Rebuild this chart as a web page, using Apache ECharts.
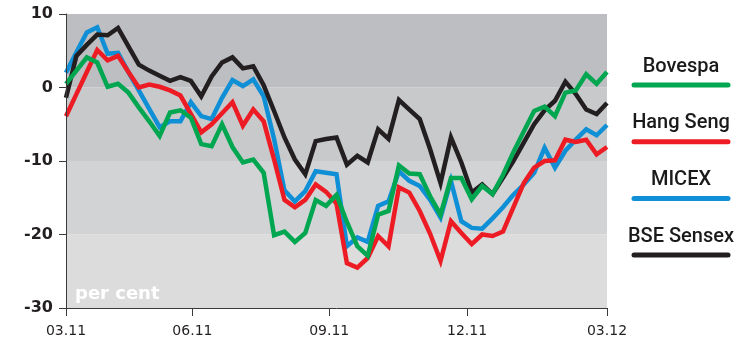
<!DOCTYPE html>
<html>
<head>
<meta charset="utf-8">
<script src="https://cdn.jsdelivr.net/npm/echarts@6/dist/echarts.min.js"></script>
<style>html,body{margin:0;padding:0;background:#fff}#c{width:750px;height:345px}</style>
</head>
<body>
<div id="c"></div>
<script>
// Weekly observations, index 0..52
const seriesNames = ['Bovespa', 'Hang Seng', 'MICEX', 'BSE Sensex'];
const bovespa = [0.5, 2.3, 4.1, 3.4, 0.1, 0.5, -0.7, -2.7, -4.6, -6.6, -3.4, -3.1, -4.1, -7.7, -8.0, -5.0, -8.1, -10.2, -9.8, -11.6, -20.1, -19.6, -21.0, -19.8, -15.3, -16.1, -14.6, -18.3, -21.6, -22.9, -17.3, -16.8, -10.6, -11.7, -11.8, -14.8, -17.3, -12.3, -12.3, -15.2, -13.4, -14.5, -11.9, -8.8, -6.0, -3.2, -2.6, -3.9, -0.7, -0.4, 1.8, 0.5, 2.1];
const hangSeng = [-3.9, -0.9, 2.1, 5.1, 3.7, 4.3, 2.1, 0.0, 0.4, 0.1, -0.4, -1.1, -3.6, -6.1, -5.0, -3.5, -2.0, -5.2, -3.0, -4.6, -9.8, -15.3, -16.3, -15.3, -13.2, -14.2, -15.8, -23.9, -24.5, -23.2, -20.2, -21.6, -13.6, -14.3, -16.8, -19.9, -23.6, -18.2, -19.8, -21.3, -20.0, -20.2, -19.6, -16.3, -13.0, -10.9, -10.0, -9.9, -7.1, -7.4, -7.1, -9.1, -8.1];
const micex = [2.0, 4.8, 7.5, 8.2, 4.6, 4.7, 2.1, -0.4, -2.9, -5.4, -4.6, -4.6, -2.0, -3.9, -4.3, -1.4, 1.0, 0.2, 1.1, -1.2, -7.0, -14.0, -15.5, -14.1, -11.4, -11.6, -11.8, -21.6, -20.4, -21.0, -16.1, -15.5, -11.4, -12.7, -13.4, -15.3, -17.7, -12.7, -18.2, -19.1, -19.2, -17.8, -16.3, -14.6, -13.2, -11.6, -8.2, -10.9, -8.6, -7.1, -5.7, -6.5, -5.1];
const bseSensex = [-1.4, 4.3, 5.8, 7.2, 7.1, 8.1, 5.6, 3.1, 2.3, 1.6, 0.9, 1.4, 0.9, -1.2, 1.5, 3.4, 4.1, 2.6, 2.9, 0.3, -3.2, -6.8, -9.8, -11.8, -7.3, -7.0, -6.8, -10.5, -9.3, -10.2, -5.7, -7.0, -1.7, -3.0, -4.3, -8.4, -13.0, -6.8, -10.2, -14.3, -13.2, -14.5, -12.3, -10.0, -7.5, -5.0, -3.1, -1.8, 0.8, -0.9, -3.0, -3.6, -2.1];
const tickLabels = ['03.11', '06.11', '09.11', '12.11', '03.12'];
const tickWeeks = [0, 12.15, 25.3, 38.55, 52];
const yTicks = [-30, -20, -10, 0, 10];

const colors = ['#00a650', '#ed1c24', '#0f8fd6', '#231f20'];
const bandColors = ['#dcdcdd', '#d2d3d5', '#c8c9cb', '#bdbec1'];
const valuesByName = [bovespa, hangSeng, micex, bseSensex];
const drawOrder = [2, 1, 3, 0];

const chart = echarts.init(document.getElementById('c'), null, {renderer: 'canvas'});

const bands = [];
for (let b = 0; b < yTicks.length - 1; b++) {
  bands.push([
    {xAxis: 'min', yAxis: yTicks[b], itemStyle: {color: bandColors[b]}},
    {xAxis: 'max', yAxis: yTicks[b + 1]}
  ]);
}

const series = drawOrder.map((k, j) => {
  const s = {
    name: seriesNames[k],
    type: 'line',
    data: valuesByName[k].map((v, i) => [i, v]),
    symbol: 'none',
    lineStyle: {color: colors[k], width: 4.5, join: 'miter'},
    itemStyle: {color: colors[k]},
    silent: true,
    animation: false
  };
  if (j === 0) {
    s.markArea = {silent: true, z: 1, itemStyle: {opacity: 1, borderWidth: 0}, label: {show: false}, data: bands};
  }
  return s;
});

const graphics = [{
  type: 'text', z: 100,
  style: {x: 75, y: 294, text: 'per cent', fill: '#ffffff', font: 'bold 18px "DejaVu Sans"', align: 'left', verticalAlign: 'middle'}
}];
seriesNames.forEach((n, k) => {
  graphics.push({
    type: 'text', z: 100,
    style: {x: 681, y: 66.5 + 56.8 * k, text: n, fill: '#1a1a1a', font: '500 20px Roboto', align: 'center', verticalAlign: 'middle'}
  });
  graphics.push({
    type: 'line', z: 100,
    shape: {x1: 634, y1: 85 + 56.7 * k, x2: 728, y2: 85 + 56.7 * k},
    style: {stroke: colors[k], lineWidth: 5, lineCap: 'round'}
  });
});

chart.setOption({
  animation: false,
  grid: {left: 66, right: 143, top: 14, bottom: 37, containLabel: false},
  xAxis: {
    type: 'value', z: 5,
    min: 0, max: 52,
    axisLine: {show: true, onZero: false, lineStyle: {color: '#3a3a3a', width: 1}},
    axisTick: {show: true, length: 8, customValues: tickWeeks, lineStyle: {color: '#3a3a3a'}},
    axisLabel: {
      show: true, customValues: tickWeeks, margin: 16,
      color: '#231f20', fontFamily: 'DejaVu Sans', fontSize: 14,
      formatter: function (v) {
        let best = 0;
        for (let i = 0; i < tickWeeks.length; i++) if (Math.abs(tickWeeks[i] - v) < Math.abs(tickWeeks[best] - v)) best = i;
        return tickLabels[best];
      }
    },
    splitLine: {show: false}
  },
  yAxis: {
    type: 'value', z: 5,
    min: yTicks[0], max: yTicks[yTicks.length - 1], interval: 10,
    axisLine: {show: true, lineStyle: {color: '#3a3a3a', width: 1}},
    axisTick: {show: true, length: 7, lineStyle: {color: '#3a3a3a'}},
    axisLabel: {color: '#231f20', fontFamily: 'DejaVu Sans', fontWeight: 'bold', fontSize: 16, margin: 13},
    splitLine: {show: false},
    splitArea: {show: false}
  },
  series: series,
  graphic: graphics
});
</script>
</body>
</html>
